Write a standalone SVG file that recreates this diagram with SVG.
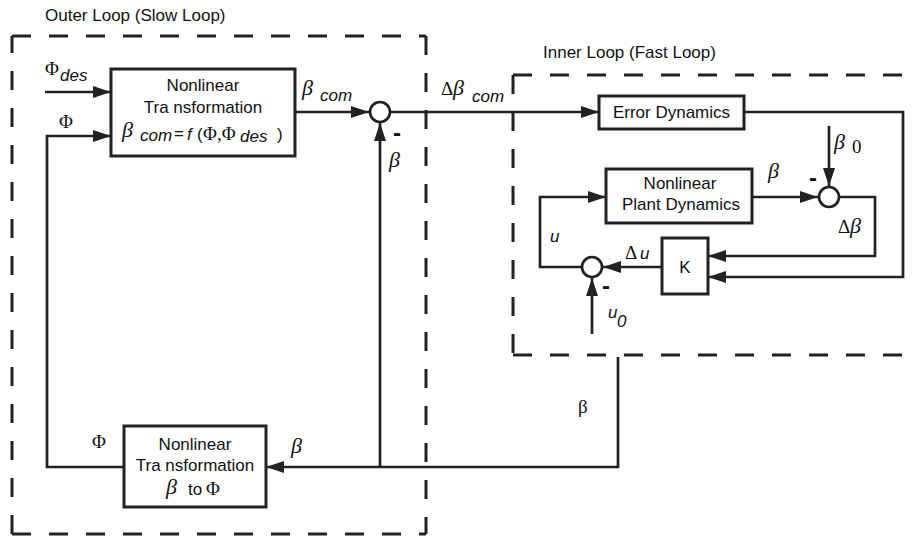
<svg xmlns="http://www.w3.org/2000/svg" width="921" height="536" viewBox="0 0 921 536">
<style>
.box{fill:#fff;stroke:#222;stroke-width:3}
.ln{fill:none;stroke:#222;stroke-width:2.7}
.arr{marker-end:url(#ah)}
.dash{fill:none;stroke:#222;stroke-width:3;stroke-dasharray:19 18}
.sum{fill:#fff;stroke:#222;stroke-width:2.7}
text{font-family:"Liberation Sans",Arial,sans-serif;font-size:17px;fill:#111}
.g{font-family:"Liberation Serif","Times New Roman",serif;font-size:19px}
.gi{font-family:"Liberation Serif","Times New Roman",serif;font-style:italic;font-size:22px}
.i{font-style:italic}
.mid{text-anchor:middle}
.minus{font-weight:bold;font-size:24px}
</style>
<defs>
<marker id="ah" markerUnits="userSpaceOnUse" markerWidth="18" markerHeight="12" refX="18" refY="6" orient="auto"><path d="M0,0 L18,6 L0,12 z" fill="#222"/></marker>
</defs>
<rect width="921" height="536" fill="#fff"/>

<g id="outer-loop">
<path class="dash" d="M12,534 V36"/>
<path class="dash" d="M12,36 H426"/>
<path class="dash" d="M426,36 V534"/>
<path class="dash" d="M12,534 H426"/>
<text x="45" y="21">Outer Loop (Slow Loop)</text>
</g>
<g id="inner-loop">
<path class="dash" d="M513,75 H908"/>
<path class="dash" d="M513,75 V355"/>
<path class="dash" d="M513,355 H908"/>
<text x="543" y="58">Inner Loop (Fast Loop)</text>
</g>

<g id="connectors">
<path class="ln arr" d="M45,92 H111"/>
<path class="ln arr" d="M124,467 H47 V136 H111"/>
<path class="ln arr" d="M295,112 H369"/>
<path class="ln arr" d="M390,112 H599"/>
<path class="ln arr" d="M618,357 V467 H266"/>
<path class="ln arr" d="M380,467 V123"/>
<path class="ln arr" d="M744,112 H903 V277 H708"/>
<path class="ln arr" d="M752,197 H818"/>
<path class="ln arr" d="M829,126 V186"/>
<path class="ln arr" d="M839,197 H875 V256 H708"/>
<path class="ln arr" d="M662,267 H603"/>
<path class="ln arr" d="M592,334 V278"/>
<path class="ln arr" d="M582,267 H540 V197 H606"/>
</g>

<g id="labels">
<text x="45" y="75" class="g">Φ</text><text x="60" y="81" class="i">des</text>
<text x="59" y="128" class="g">Φ</text>
<text x="302" y="95" class="gi">β</text><text x="320" y="101" class="i">com</text>
<text x="441" y="95" class="g">Δ</text><text x="453" y="95" class="gi">β</text><text x="472" y="102" class="i">com</text>
<text x="393" y="141" class="minus">-</text>
<text x="389" y="167" class="gi">β</text>
<text x="768" y="178" class="gi">β</text>
<text x="809" y="186" class="minus">-</text>
<text x="834" y="149" class="gi">β</text><text x="852" y="153" class="g" font-size="12">0</text>
<text x="838" y="233" class="g">Δ</text><text x="850" y="233" class="gi">β</text>
<text x="550" y="242" class="i">u</text>
<text x="625" y="259" class="g">Δ</text><text x="640" y="259" class="i">u</text>
<text x="602" y="294" class="minus">-</text>
<text x="608" y="318" class="i">u</text><text x="617" y="327" class="i" font-size="18">0</text>
<text x="578" y="413" class="g">β</text>
<text x="92" y="448" class="g">Φ</text>
<text x="291" y="453" class="gi">β</text>
</g>

<g id="nonlinear-transformation">
<rect class="box" x="111" y="69" width="184" height="87"/>
<text x="203" y="91" class="mid">Nonlinear</text>
<text x="203" y="113" class="mid">Tra nsformation</text>
<text x="122" y="137" class="gi">β</text>
<text x="140" y="141" class="i" font-size="16">com</text>
<text x="174" y="139" font-size="14">=</text>
<text x="187" y="140" class="i">f</text>
<text x="197" y="140">(</text>
<text x="203" y="140" class="g">Φ,Φ</text>
<text x="240" y="142" class="i" font-size="18">des</text>
<text x="277" y="140">)</text>
</g>

<g id="sum-outer"><circle class="sum" cx="380" cy="112" r="10"/></g>

<g id="error-dynamics">
<rect class="box" x="599" y="96" width="145" height="33"/>
<text x="671.5" y="118" class="mid">Error Dynamics</text>
</g>

<g id="plant-dynamics">
<rect class="box" x="606" y="169" width="146" height="54"/>
<text x="680" y="189" class="mid">Nonlinear</text>
<text x="681" y="210" class="mid">Plant Dynamics</text>
</g>

<g id="sum-beta"><circle class="sum" cx="829" cy="197" r="10"/></g>

<g id="gain-k">
<rect class="box" x="662" y="238" width="46" height="56"/>
<text x="685" y="273" class="mid">K</text>
</g>

<g id="sum-u"><circle class="sum" cx="592" cy="267" r="10"/></g>

<g id="beta-to-phi">
<rect class="box" x="124" y="426" width="142" height="81"/>
<text x="195" y="450" class="mid">Nonlinear</text>
<text x="195" y="471" class="mid">Tra nsformation</text>
<text x="166" y="494" class="gi">β</text>
<text x="188" y="495">to</text>
<text x="206" y="495" class="g">Φ</text>
</g>
</svg>
